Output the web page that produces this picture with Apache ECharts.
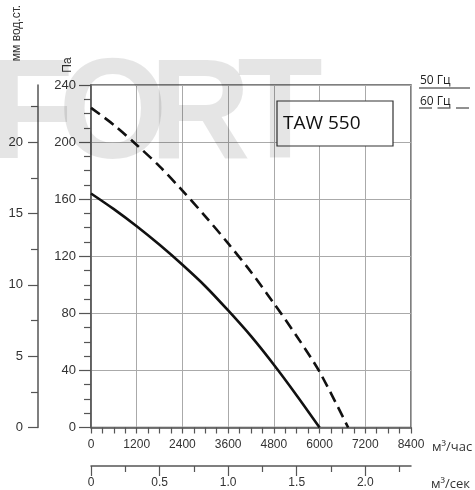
<!DOCTYPE html>
<html><head><meta charset="utf-8">
<script src="https://cdn.jsdelivr.net/npm/echarts@6/dist/echarts.min.js"></script>
<style>html,body{margin:0;padding:0;background:#fff}#c{width:475px;height:490px}</style>
</head><body><div id="c"></div>
<script>
// Data
const flow50 = [0, 600, 1200, 1800, 2400, 3000, 3600, 4200, 4800, 5400, 6000];
const pa50   = [164, 153, 141, 128, 114, 99, 82, 64, 44, 22.5, 0];
const flow60 = [0, 600, 1200, 1800, 2400, 3000, 3600, 4200, 4800, 5400, 6000, 6750];
const pa60   = [224, 212, 198, 183, 166, 148, 129, 109, 87, 64, 39, 0];
const secMajor = [0, 0.5, 1.0, 1.5, 2.0];
const secMinor = [0.25, 0.75, 1.25, 1.75, 2.25];
const mmMajor = [0, 5, 10, 15, 20];
const mmMinor = [2.5, 7.5, 12.5, 17.5, 22.5];
const modelName = 'TAW 550';
const legendNames = ['50 Гц', '60 Гц'];

const axisCol = '#555';
const gridCol = '#aaa';
const numFont = 'Liberation Sans';
const chart = echarts.init(document.getElementById('c'), null, {renderer: 'canvas'});
const line = {lineStyle: {color: axisCol, width: 1.5}};
const plain = v => String(v);

const wmFont = 'bold 140px "Liberation Sans"';
const mctx = document.createElement('canvas').getContext('2d');
mctx.font = wmFont; mctx.textBaseline = 'middle';
const mF = mctx.measureText('F');
const wmAsc = mF.actualBoundingBoxAscent, wmDesc = mF.actualBoundingBoxDescent;
const wmS = 98 / (wmAsc + wmDesc);
const wmY = 60 + wmAsc * wmS;
const wm = (ch, x) => ({type: 'text', x: x, y: wmY, scaleY: wmS, style: {text: ch, font: wmFont, fill: 'rgba(0,0,0,0.1)', align: 'center', verticalAlign: 'middle'}, z: 50});

const option = {
  animation: false,
  backgroundColor: '#fff',
  grid: {left: 91, top: 85, width: 320, height: 342.5, show: true, borderColor: axisCol, borderWidth: 1.5,
         containLabel: false, outerBoundsMode: 'none'},
  xAxis: [
    {type: 'value', min: 0, max: 8400, interval: 1200, position: 'bottom',
     axisLine: {onZero: false, ...line},
     axisTick: {length: 6, lineStyle: {color: axisCol, width: 1.2}},
     minorTick: {show: true, splitNumber: 4, length: 6, lineStyle: {color: axisCol, width: 1.2}},
     splitLine: {show: true, lineStyle: {color: gridCol, width: 1}},
     axisLabel: {fontSize: 12, color: '#333', margin: 11, fontFamily: numFont, formatter: plain}},
    {type: 'value', min: 0, max: 8400 / 3600, position: 'bottom', offset: 38.5,
     axisLine: {onZero: false, ...line},
     axisTick: {customValues: secMajor, length: 10, lineStyle: {color: axisCol, width: 1.2}},
     splitLine: {show: false},
     axisLabel: {customValues: secMajor, fontSize: 12, color: '#333', margin: 11, fontFamily: numFont,
                 formatter: v => v === 0 ? '0' : v.toFixed(1)}},
    {type: 'value', min: 0, max: 8400 / 3600, position: 'bottom', offset: 38.5,
     axisLine: {show: false, onZero: false},
     axisTick: {customValues: secMinor, length: 6, lineStyle: {color: axisCol, width: 1.2}},
     splitLine: {show: false}, axisLabel: {show: false}}
  ],
  yAxis: [
    {type: 'value', min: 0, max: 240, interval: 40, position: 'left',
     axisLine: {onZero: false, ...line},
     axisTick: {length: 12, lineStyle: {color: axisCol, width: 1.2}},
     minorTick: {show: true, splitNumber: 4, length: 7, lineStyle: {color: axisCol, width: 1.2}},
     splitLine: {show: true, lineStyle: {color: gridCol, width: 1}},
     axisLabel: {fontSize: 13, color: '#333', margin: 15, fontFamily: numFont, formatter: plain}},
    {type: 'value', min: 0, max: 24, position: 'left', offset: 53,
     axisLine: {onZero: false, ...line},
     axisTick: {customValues: mmMajor, length: 10, lineStyle: {color: axisCol, width: 1.2}},
     splitLine: {show: false},
     axisLabel: {customValues: mmMajor, fontSize: 13, color: '#333', margin: 15, fontFamily: numFont, formatter: plain}},
    {type: 'value', min: 0, max: 24, position: 'left', offset: 53,
     axisLine: {show: false, onZero: false},
     axisTick: {customValues: mmMinor, length: 7, lineStyle: {color: axisCol, width: 1.2}},
     splitLine: {show: false}, axisLabel: {show: false}}
  ],
  series: [
    {type: 'line', name: legendNames[0], xAxisIndex: 0, yAxisIndex: 0, smooth: 0.3, symbol: 'none',
     data: flow50.map((x, i) => [x, pa50[i]]), lineStyle: {color: '#111', width: 2.6}, z: 5},
    {type: 'line', name: legendNames[1], xAxisIndex: 0, yAxisIndex: 0, smooth: 0.3, symbol: 'none',
     data: flow60.map((x, i) => [x, pa60[i]]), lineStyle: {color: '#111', width: 2.6, type: [11, 6]}, z: 5}
  ],
  graphic: [
    {type: 'rect', shape: {x: 277, y: 101, width: 116, height: 45}, style: {fill: '#fff', stroke: '#333', lineWidth: 1.2}, z: 10},
    {type: 'text', x: 283, y: 124, style: {text: modelName, font: '19px "Open Sans"', fill: '#111', verticalAlign: 'middle'}, z: 11},
    {type: 'text', x: 420, y: 81, style: {text: legendNames[0], font: '12px "Open Sans"', fill: '#222', verticalAlign: 'middle'}, z: 11},
    {type: 'line', shape: {x1: 419, y1: 88, x2: 470, y2: 88}, style: {stroke: '#222', lineWidth: 1}, z: 11},
    {type: 'text', x: 420, y: 102, style: {text: legendNames[1], font: '12px "Open Sans"', fill: '#222', verticalAlign: 'middle'}, z: 11},
    {type: 'line', shape: {x1: 419, y1: 108, x2: 469, y2: 108}, style: {stroke: '#222', lineWidth: 1, lineDash: [13, 5.5]}, z: 11},
    {type: 'text', x: 17, y: 33, rotation: Math.PI / 2, style: {text: 'мм вод.ст.', font: '12px "Liberation Sans"', fill: '#333', align: 'center', verticalAlign: 'middle'}, z: 11},
    {type: 'text', x: 68, y: 65, rotation: Math.PI / 2, style: {text: 'Па', font: '12px "Liberation Sans"', fill: '#333', align: 'center', verticalAlign: 'middle'}, z: 11},
    {type: 'text', x: 432, y: 447, style: {text: 'м³/час', font: '13px "Open Sans"', fill: '#333', verticalAlign: 'middle'}, z: 11},
    {type: 'text', x: 431, y: 484, style: {text: 'м³/сек', font: '13px "Open Sans"', fill: '#333', verticalAlign: 'middle'}, z: 11},
    wm('F', 31), wm('O', 113), wm('R', 200), wm('T', 280)
  ]
};
chart.setOption(option);
</script></body></html>
